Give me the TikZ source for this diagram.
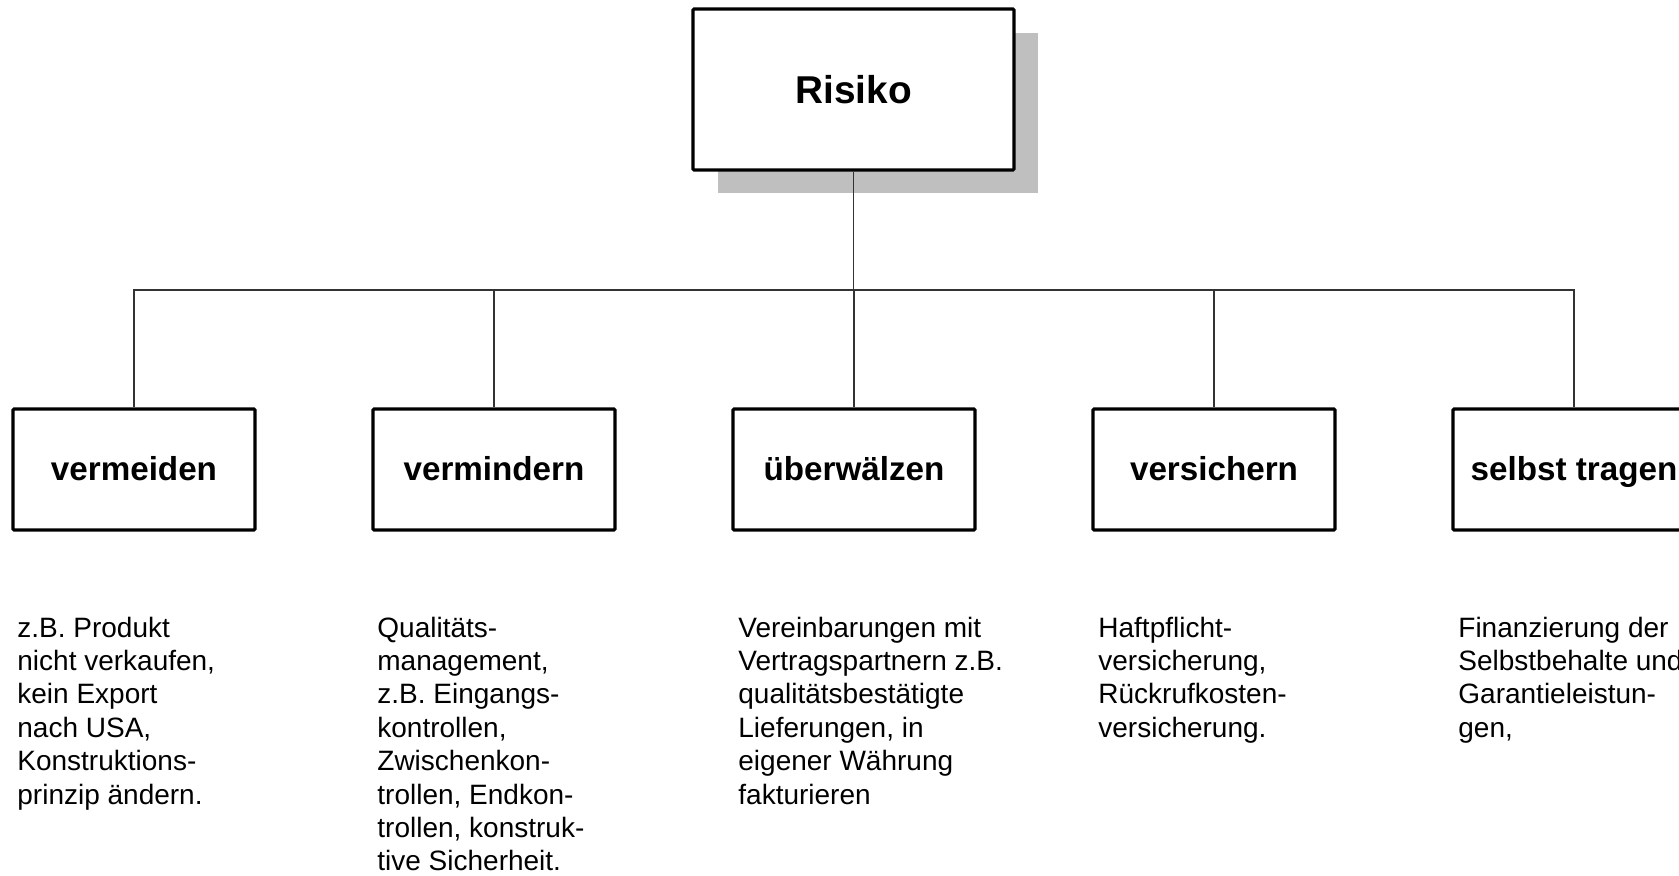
\documentclass[tikz,border=0pt]{standalone}
\usepackage{fontspec}
\setmainfont{Liberation Sans}
\tikzset{
  px/.style={x=0.5pt,y=-0.5pt},
  topbox/.style={draw=black,line width=1.6pt,fill=white,rounded corners=0.6pt,inner sep=0pt,
    minimum width=160.5pt,minimum height=80.5pt,font=\fontsize{19.4}{22}\selectfont\bfseries},
  childbox/.style={draw=black,line width=1.6pt,fill=white,rounded corners=0.6pt,inner sep=0pt,
    text height=14pt,text depth=3.5pt,
    minimum width=121pt,minimum height=60.5pt,font=\fontsize{16.6}{19}\selectfont\bfseries},
  desc/.style={anchor=base west,inner sep=0pt,font=\fontsize{14}{16.7}\selectfont},
  conn/.style={draw=black!80,line width=0.55pt},
  shadowbox/.style={fill=black!25,draw=none}
}
\newcommand{\desclines}[1]{\begin{tabular}[t]{@{}l@{}}#1\end{tabular}}
\begin{document}
\begin{tikzpicture}[px]
\useasboundingbox (0,0) rectangle (1679,875);
\clip (0,0) rectangle (1679,875);
\fill[white] (0,0) rectangle (1679,875);
% shadow
\fill[shadowbox] (718,33) rectangle (1038,193);
\node[topbox] (risiko) at (853.5,89.5) {Risiko};
\coordinate (bus) at (853.5,290);
% children
\node[childbox] (c1) at (134,469.5) {vermeiden};
\node[childbox] (c2) at (494,469.5) {vermindern};
\node[childbox] (c3) at (854,469.5) {überwälzen};
\node[childbox] (c4) at (1214,469.5) {versichern};
\node[childbox] (c5) at (1574,469.5) {selbst tragen};
% connectors
\foreach \c in {c1,c2,c3,c4,c5}{
  \draw[conn] (risiko.south) -- (risiko.south |- bus) -| (\c.north);
}
% descriptions
\node[desc] (d1) at (17,637) {\desclines{z.B. Produkt\\nicht verkaufen,\\kein Export\\nach USA,\\Konstruktions-\\prinzip ändern.}};
\node[desc] (d2) at (377,637) {\desclines{Qualitäts-\\management,\\z.B. Eingangs-\\kontrollen,\\Zwischenkon-\\trollen, Endkon-\\trollen, konstruk-\\tive Sicherheit.}};
\node[desc] (d3) at (738,637) {\desclines{Vereinbarungen mit\\Vertragspartnern z.B.\\qualitätsbestätigte\\Lieferungen, in\\eigener Währung\\fakturieren}};
\node[desc] (d4) at (1098,637) {\desclines{Haftpflicht-\\versicherung,\\Rückrufkosten-\\versicherung.}};
\node[desc] (d5) at (1458,637) {\desclines{Finanzierung der\\Selbstbehalte und\\Garantieleistun-\\gen,}};
\end{tikzpicture}
\end{document}
